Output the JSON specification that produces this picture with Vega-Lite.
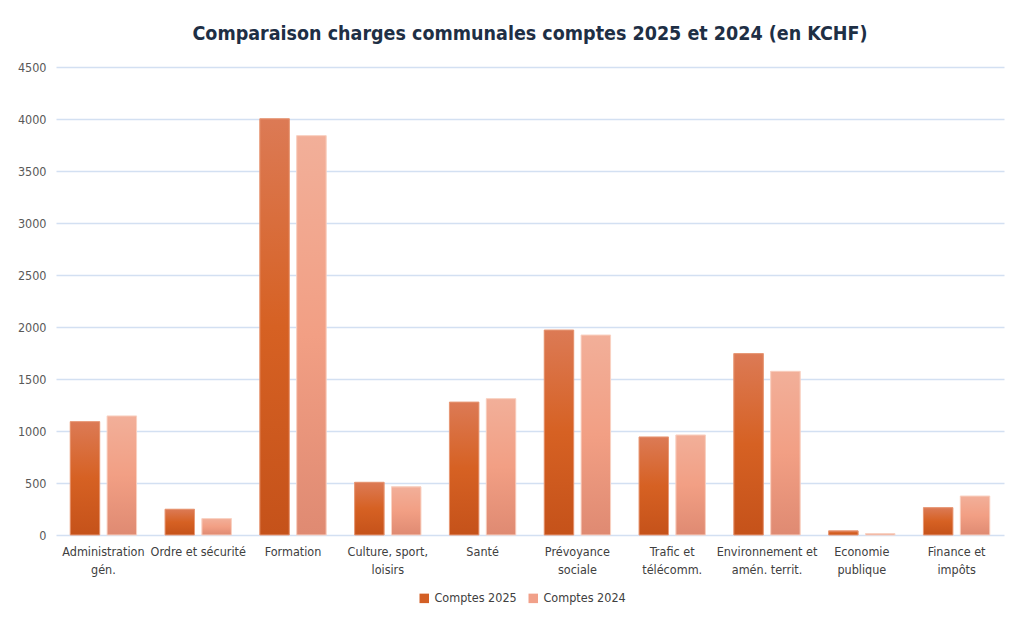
{
  "$schema": "https://vega.github.io/schema/vega-lite/v6.json",
  "width": 948,
  "height": 468,
  "padding": {"left": 17, "top": 23, "right": 14, "bottom": 10},
  "background": "white",
  "title": {
    "text": "Comparaison charges communales comptes 2025 et 2024 (en KCHF)",
    "font": "'Liberation Sans Narrow', 'DejaVu Sans Condensed', 'Liberation Sans', sans-serif",
    "fontSize": 19.5,
    "fontWeight": "bold",
    "color": "#1E2F45",
    "anchor": "middle",
    "offset": 17
  },
  "config": {
    "view": {"stroke": null},
    "font": "'Liberation Sans Narrow', 'DejaVu Sans Condensed', 'Liberation Sans', sans-serif"
  },
  "data": {
    "values": [
      {"cat": "Administration gén.", "serie": "Comptes 2025", "value": 1090},
      {"cat": "Administration gén.", "serie": "Comptes 2024", "value": 1145},
      {"cat": "Ordre et sécurité", "serie": "Comptes 2025", "value": 248},
      {"cat": "Ordre et sécurité", "serie": "Comptes 2024", "value": 158},
      {"cat": "Formation", "serie": "Comptes 2025", "value": 4002},
      {"cat": "Formation", "serie": "Comptes 2024", "value": 3840},
      {"cat": "Culture, sport, loisirs", "serie": "Comptes 2025", "value": 507},
      {"cat": "Culture, sport, loisirs", "serie": "Comptes 2024", "value": 463},
      {"cat": "Santé", "serie": "Comptes 2025", "value": 1278},
      {"cat": "Santé", "serie": "Comptes 2024", "value": 1311},
      {"cat": "Prévoyance sociale", "serie": "Comptes 2025", "value": 1971},
      {"cat": "Prévoyance sociale", "serie": "Comptes 2024", "value": 1923},
      {"cat": "Trafic et télécomm.", "serie": "Comptes 2025", "value": 943},
      {"cat": "Trafic et télécomm.", "serie": "Comptes 2024", "value": 962},
      {"cat": "Environnement et amén. territ.", "serie": "Comptes 2025", "value": 1744},
      {"cat": "Environnement et amén. territ.", "serie": "Comptes 2024", "value": 1574},
      {"cat": "Economie publique", "serie": "Comptes 2025", "value": 40},
      {"cat": "Economie publique", "serie": "Comptes 2024", "value": 13},
      {"cat": "Finance et impôts", "serie": "Comptes 2025", "value": 263},
      {"cat": "Finance et impôts", "serie": "Comptes 2024", "value": 375}
    ]
  },
  "encoding": {
    "x": {
      "field": "cat",
      "type": "nominal",
      "sort": null,
      "scale": {"paddingInner": 0.3, "paddingOuter": 0.15},
      "axis": {
        "title": null,
        "labelAngle": 0,
        "domain": false,
        "ticks": false,
        "labelPadding": 10,
        "labelColor": "#404040",
        "labelFontSize": 12.5,
        "labelLineHeight": 18,
        "labelLimit": 200,
        "labelExpr": "datum.label == 'Administration gén.' ? ['Administration', 'gén.'] : datum.label == 'Culture, sport, loisirs' ? ['Culture, sport,', 'loisirs'] : datum.label == 'Prévoyance sociale' ? ['Prévoyance', 'sociale'] : datum.label == 'Trafic et télécomm.' ? ['Trafic et', 'télécomm.'] : datum.label == 'Environnement et amén. territ.' ? ['Environnement et', 'amén. territ.'] : datum.label == 'Economie publique' ? ['Economie', 'publique'] : datum.label == 'Finance et impôts' ? ['Finance et', 'impôts'] : datum.label"
      }
    },
    "xOffset": {
      "field": "serie",
      "type": "nominal",
      "scale": {"domain": ["Comptes 2025", "Comptes 2024"], "paddingInner": 0.2}
    },
    "y": {
      "field": "value",
      "type": "quantitative",
      "scale": {"domain": [0, 4500], "nice": false},
      "axis": {
        "title": null,
        "values": [0, 500, 1000, 1500, 2000, 2500, 3000, 3500, 4000, 4500],
        "format": "d",
        "domain": false,
        "ticks": false,
        "labelPadding": 10,
        "labelColor": "#595959",
        "labelFontSize": 12.5,
        "gridColor": "#D3E0F2",
        "gridOpacity": 1,
        "gridWidth": 1.5
      }
    }
  },
  "layer": [
    {
      "mark": {"type": "bar"},
      "encoding": {
        "color": {
          "field": "serie",
          "type": "nominal",
          "scale": {"domain": ["Comptes 2025", "Comptes 2024"], "range": ["#D35F25", "#F1A089"]},
          "legend": {
            "title": null,
            "orient": "none",
            "legendX": 362,
            "legendY": 525,
            "direction": "horizontal",
            "symbolType": "square",
            "symbolSize": 90,
            "labelFontSize": 12.5,
            "labelColor": "#404040",
            "columnPadding": 10,
            "symbolOffset": 0
          }
        }
      }
    },
    {
      "transform": [{"filter": "datum.serie == 'Comptes 2025'"}],
      "mark": {
        "type": "bar",
        "stroke": "#E89A78",
        "strokeWidth": 1,
        "color": {
          "gradient": "linear",
          "x1": 0, "y1": 0, "x2": 0, "y2": 1,
          "stops": [
            {"offset": 0, "color": "#DC7A55"},
            {"offset": 0.5, "color": "#D66123"},
            {"offset": 1, "color": "#C5521A"}
          ]
        }
      }
    },
    {
      "transform": [{"filter": "datum.serie == 'Comptes 2024'"}],
      "mark": {
        "type": "bar",
        "stroke": "#F9D3C4",
        "strokeWidth": 1,
        "color": {
          "gradient": "linear",
          "x1": 0, "y1": 0, "x2": 0, "y2": 1,
          "stops": [
            {"offset": 0, "color": "#F2AF99"},
            {"offset": 0.5, "color": "#F29F84"},
            {"offset": 1, "color": "#DF8A72"}
          ]
        }
      }
    }
  ]
}
